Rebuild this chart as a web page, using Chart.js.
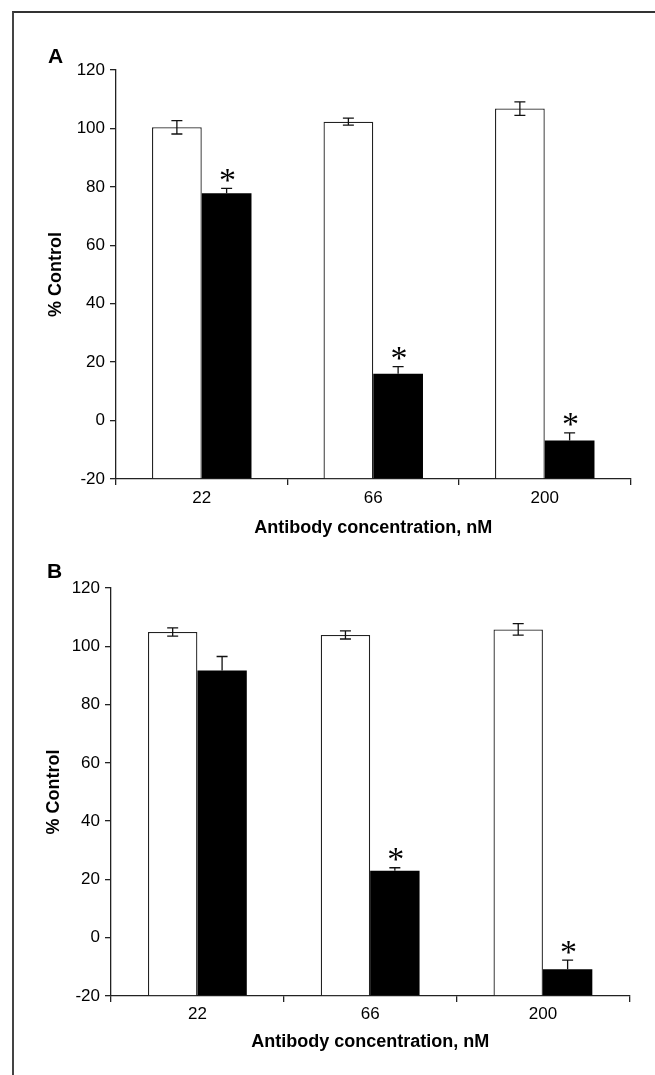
<!DOCTYPE html>
<html><head><meta charset="utf-8">
<script src="https://cdn.jsdelivr.net/npm/chart.js@4.4.1/dist/chart.umd.min.js"></script>
<style>
html,body{margin:0;padding:0;background:#fff;width:655px;height:1075px;overflow:hidden;position:relative;}
#frame{position:absolute;left:12px;top:11px;width:700px;height:1200px;border-top:2px solid #333;border-left:2px solid #444;}
.panel{position:absolute;left:0;width:655px;}
#wrapA{top:0;height:545px}
#wrapB{top:545px;height:530px}
.lbl{position:absolute;font:bold 21px "Liberation Sans",Arial,sans-serif;color:#000;line-height:normal;}
canvas{display:block}
</style></head>
<body>
<div id="frame"></div>
<div class="panel" id="wrapA"><canvas id="cA" width="655" height="545"></canvas></div>
<div class="panel" id="wrapB"><canvas id="cB" width="655" height="530"></canvas></div>
<div class="lbl" style="left:48px;top:44px">A</div>
<div class="lbl" style="left:47px;top:559px">B</div>
<script>
const categories = ['22', '66', '200'];
const yMin = -20, yMax = 120, yStep = 20;
const xTitle = 'Antibody concentration, nM';
const yTitle = '% Control';

// Panel A
const controlA = [100.4, 102.3, 106.8];
const controlErrA = [2.3, 1.2, 2.3];
const antibodyA = [77.8, 16.0, -6.8];
const antibodyErrA = [1.7, 2.5, 2.6];
const sigA = [true, true, true];

// Panel B
const controlB = [104.9, 103.9, 105.8];
const controlErrB = [1.4, 1.4, 2.0];
const antibodyB = [91.7, 23.0, -10.8];
const antibodyErrB = [4.8, 1.0, 3.1];
const sigB = [false, true, true];

const FONT = '"Liberation Sans", Arial, Helvetica, sans-serif';
const STAR_FONT = '"Liberation Serif", "Times New Roman", serif';
const STAR_SIZE = 34;

const errPlugin = {
  id: 'errbars',
  afterDatasetsDraw(chart) {
    const ctx = chart.ctx, ys = chart.scales.y;
    chart.data.datasets.forEach((ds, di) => {
      const meta = chart.getDatasetMeta(di);
      meta.data.forEach((bar, i) => {
        const v = ds.data[i], e = ds.err[i];
        const x = bar.x;
        const yt = ys.getPixelForValue(v + e), yb = ys.getPixelForValue(v - e);
        const yv = ys.getPixelForValue(v);
        ctx.save();
        ctx.strokeStyle = '#111';
        ctx.lineWidth = 1.3;
        ctx.beginPath();
        ctx.moveTo(x - 5.5, yt); ctx.lineTo(x + 5.5, yt);
        if (ds.upperOnly) {
          ctx.moveTo(x, yt); ctx.lineTo(x, yv);
        } else {
          ctx.moveTo(x, yt); ctx.lineTo(x, yb);
          ctx.moveTo(x - 5.5, yb); ctx.lineTo(x + 5.5, yb);
        }
        ctx.stroke();
        if (ds.sig && ds.sig[i]) {
          ctx.fillStyle = '#000';
          ctx.font = STAR_SIZE + 'px ' + STAR_FONT;
          ctx.textAlign = 'center';
          ctx.textBaseline = 'alphabetic';
          ctx.fillText('*', x + 1, yt - 13.5 + 0.47 * STAR_SIZE);
        }
        ctx.restore();
      });
    });
  }
};

function makeChart(id, ctrl, ctrlErr, ab, abErr, sig, g) {
  return new Chart(document.getElementById(id), {
    type: 'bar',
    data: {
      labels: categories,
      datasets: [
        { data: ctrl, err: ctrlErr, base: yMin, backgroundColor: '#fff', borderColor: '#222', borderWidth: 1.3,
          categoryPercentage: g.cat, barPercentage: 1.0 },
        { data: ab, err: abErr, sig: sig, upperOnly: true, base: yMin, backgroundColor: '#000', borderColor: '#000', borderWidth: 0,
          categoryPercentage: g.cat, barPercentage: 1.0 }
      ]
    },
    options: {
      responsive: false,
      animation: false,
      devicePixelRatio: 1,
      layout: { padding: { top: g.top, right: g.right, left: 0, bottom: 0 } },
      plugins: { legend: { display: false }, tooltip: { enabled: false } },
      scales: {
        x: {
          grid: { display: true, drawOnChartArea: false, drawTicks: true, tickLength: 6, color: '#222', lineWidth: 1.3, offset: true },
          border: { display: true, color: '#222', width: 1.3 },
          ticks: { color: '#000', font: { size: 17, family: FONT }, padding: g.xPad },
          title: { display: true, text: xTitle, color: '#000', font: { size: 18, weight: 'bold', family: FONT }, padding: { top: 0, bottom: g.xTitlePad } },
          afterFit(s) { s.height = g.xH; }
        },
        y: {
          min: yMin, max: yMax,
          grid: { display: true, drawOnChartArea: false, drawTicks: true, tickLength: 6, color: '#222', lineWidth: 1.3 },
          border: { display: true, color: '#222', width: 1.3 },
          ticks: { stepSize: yStep, color: '#000', font: { size: 17, family: FONT }, padding: 5 },
          title: { display: true, text: yTitle, color: '#000', font: { size: 18, weight: 'bold', family: FONT }, padding: { top: g.yTitlePad, bottom: 0 } },
          afterFit(s) { s.width = g.yW; }
        }
      }
    },
    plugins: [errPlugin]
  });
}

makeChart('cA', controlA, controlErrA, antibodyA, antibodyErrA, sigA,
  { top: 70, right: 24.5, yW: 116, xH: 66, xPad: 3.3, xTitlePad: 5.7, yTitlePad: 45, cat: 0.58 });
makeChart('cB', controlB, controlErrB, antibodyB, antibodyErrB, sigB,
  { top: 43, right: 25.7, yW: 111, xH: 79, xPad: 1.8, xTitlePad: 22.2, yTitlePad: 43, cat: 0.572 });
</script>
</body></html>
